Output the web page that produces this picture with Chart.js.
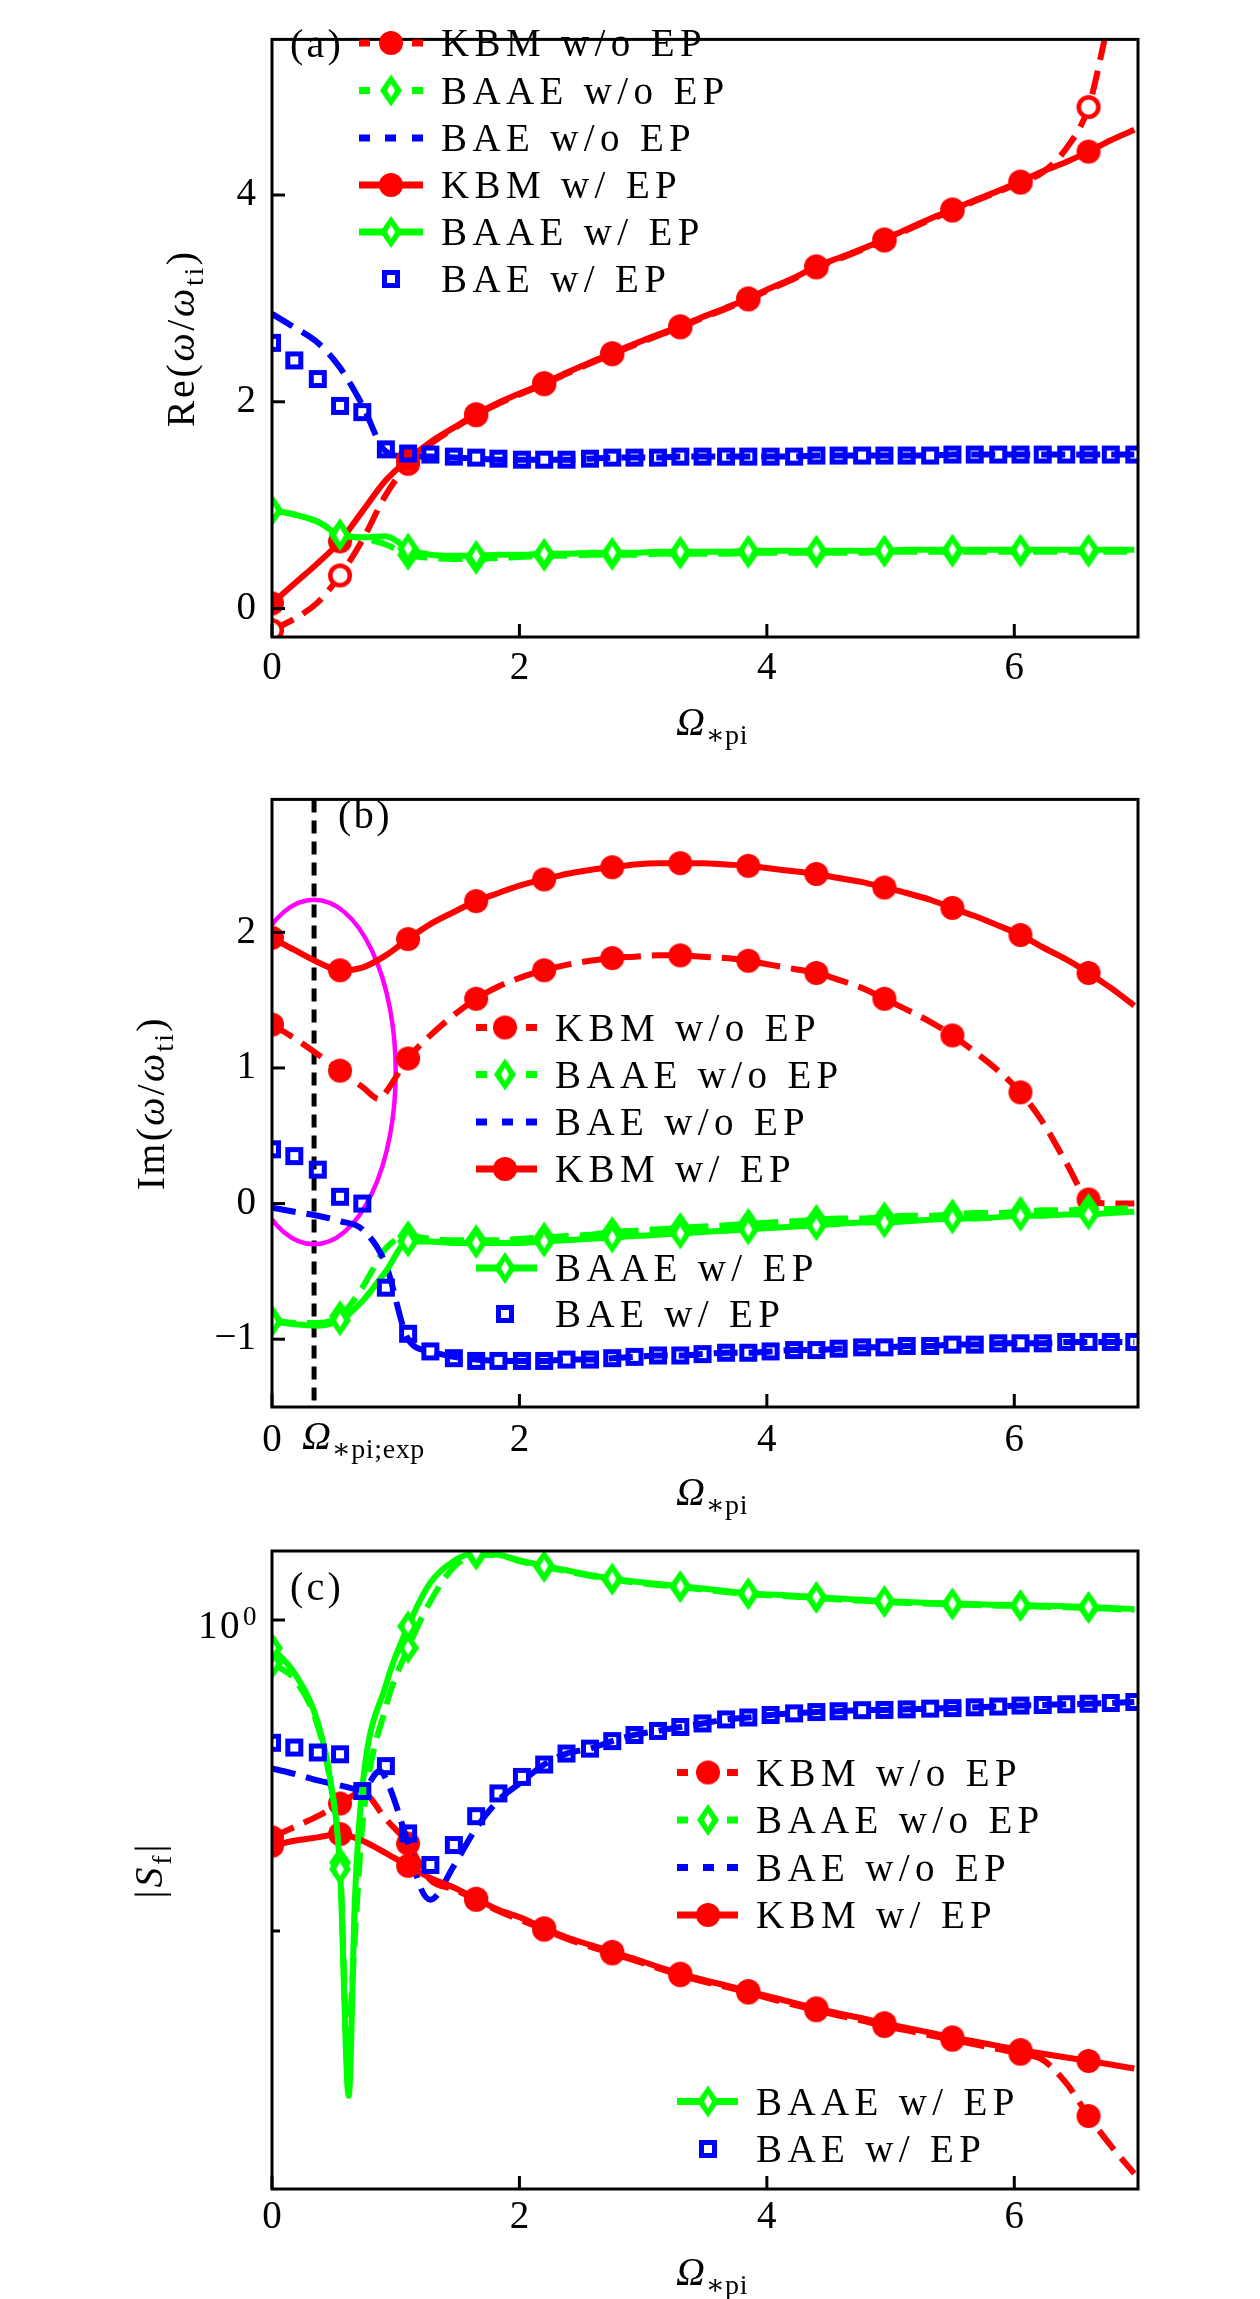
<!DOCTYPE html>
<html>
<head>
<meta charset="utf-8">
<script src="https://cdn.jsdelivr.net/npm/chart.js@4.4.1/dist/chart.umd.min.js"></script>
<style>
  html, body { margin: 0; padding: 0; background: #fff; }
  #wrap { position: relative; width: 1260px; height: 2299px; }
  canvas { position: absolute; left: 0; }
</style>
</head>
<body>
<div id="wrap">
  <canvas id="pa" width="1260" height="760" style="top:0px"></canvas>
  <canvas id="pb" width="1260" height="760" style="top:760px"></canvas>
  <canvas id="pc" width="1260" height="779" style="top:1520px"></canvas>
</div>
<script>
// ---------- data ----------
const omega = [0.00, 0.18, 0.37, 0.55, 0.73, 0.92, 1.10, 1.28, 1.47, 1.65, 1.83, 2.02, 2.20, 2.38, 2.57, 2.75, 2.93, 3.12, 3.30, 3.48,
               3.67, 3.85, 4.03, 4.22, 4.40, 4.58, 4.77, 4.95, 5.13, 5.32, 5.50, 5.68, 5.87, 6.05, 6.23, 6.42, 6.60, 6.78, 6.97];
const xTicks = [0, 2, 4, 6];

// (a) Re(omega/omega_ti)
const reKbmWo  = [-0.21, -0.10, 0.06, 0.32, 0.66, 1.10, 1.40, 1.59, 1.74, 1.87, 1.98, 2.08, 2.17, 2.27, 2.37, 2.46, 2.55, 2.64, 2.72, 2.81,
                  2.90, 2.99, 3.09, 3.19, 3.30, 3.38, 3.47, 3.56, 3.66, 3.76, 3.85, 3.94, 4.03, 4.12, 4.22, 4.45, 4.85, 5.75, 6.40];
const reBaaeWo = [0.95, 0.91, 0.84, 0.72, 0.68, 0.62, 0.52, 0.49, 0.48, 0.48, 0.49, 0.50, 0.51, 0.51, 0.52, 0.52, 0.52, 0.53, 0.53, 0.53,
                  0.53, 0.54, 0.54, 0.54, 0.54, 0.54, 0.54, 0.55, 0.55, 0.55, 0.55, 0.55, 0.55, 0.55, 0.55, 0.55, 0.55, 0.55, 0.55];
const reBaeWo  = [2.85, 2.72, 2.57, 2.33, 1.97, 1.52, 1.47, 1.47, 1.46, 1.45, 1.44, 1.44, 1.44, 1.44, 1.45, 1.46, 1.46, 1.46, 1.47, 1.47,
                  1.47, 1.47, 1.47, 1.47, 1.48, 1.48, 1.48, 1.48, 1.48, 1.48, 1.49, 1.49, 1.49, 1.49, 1.49, 1.49, 1.49, 1.49, 1.49];
const reKbmW   = [0.05, 0.24, 0.44, 0.65, 0.94, 1.24, 1.44, 1.61, 1.75, 1.88, 1.99, 2.09, 2.18, 2.28, 2.38, 2.47, 2.56, 2.65, 2.73, 2.82,
                  2.91, 3.00, 3.10, 3.20, 3.31, 3.39, 3.48, 3.57, 3.67, 3.77, 3.86, 3.95, 4.04, 4.13, 4.23, 4.32, 4.42, 4.53, 4.63];
const reBaaeW  = [0.95, 0.91, 0.84, 0.71, 0.69, 0.70, 0.58, 0.52, 0.51, 0.51, 0.52, 0.52, 0.53, 0.53, 0.54, 0.54, 0.54, 0.55, 0.55, 0.55,
                  0.55, 0.56, 0.56, 0.56, 0.56, 0.56, 0.56, 0.56, 0.57, 0.57, 0.57, 0.57, 0.57, 0.57, 0.57, 0.57, 0.57, 0.57, 0.57];
const reBaeW   = [2.57, 2.40, 2.22, 1.96, 1.90, 1.54, 1.50, 1.49, 1.47, 1.46, 1.45, 1.44, 1.44, 1.44, 1.45, 1.46, 1.46, 1.46, 1.47, 1.47,
                  1.47, 1.47, 1.47, 1.47, 1.48, 1.48, 1.48, 1.48, 1.48, 1.48, 1.49, 1.49, 1.49, 1.49, 1.49, 1.49, 1.49, 1.49, 1.49];
const reTicks  = [0, 2, 4];

// (b) Im(omega/omega_ti)
const imKbmWo  = [1.32, 1.22, 1.10, 0.98, 0.86, 0.82, 1.07, 1.24, 1.39, 1.51, 1.60, 1.67, 1.72, 1.76, 1.79, 1.81, 1.82, 1.83, 1.83, 1.82,
                  1.81, 1.79, 1.76, 1.73, 1.70, 1.65, 1.59, 1.51, 1.43, 1.34, 1.24, 1.12, 0.98, 0.82, 0.60, 0.30, 0.03, 0.00, 0.00];
const imKbmWoDipX = [0.87];
const imKbmWoDipY = [0.77];
const imBaaeWo = [-0.86, -0.88, -0.88, -0.83, -0.62, -0.33, -0.24, -0.26, -0.27, -0.27, -0.27, -0.26, -0.25, -0.24, -0.23, -0.21, -0.20, -0.19, -0.18, -0.17,
                  -0.16, -0.15, -0.14, -0.13, -0.12, -0.11, -0.11, -0.10, -0.09, -0.09, -0.08, -0.07, -0.07, -0.06, -0.05, -0.05, -0.04, -0.04, -0.03];
const imBaeWo  = [-0.03, -0.06, -0.09, -0.13, -0.19, -0.45, -1.00, -1.09, -1.13, -1.15, -1.16, -1.16, -1.16, -1.15, -1.15, -1.14, -1.13, -1.12, -1.12, -1.11,
                  -1.10, -1.10, -1.09, -1.08, -1.08, -1.07, -1.06, -1.06, -1.05, -1.05, -1.04, -1.04, -1.03, -1.03, -1.03, -1.02, -1.02, -1.02, -1.02];
const imKbmW   = [1.96, 1.87, 1.78, 1.72, 1.74, 1.83, 1.95, 2.06, 2.15, 2.23, 2.29, 2.35, 2.39, 2.43, 2.46, 2.48, 2.50, 2.51, 2.51, 2.51,
                  2.50, 2.49, 2.47, 2.45, 2.43, 2.40, 2.37, 2.33, 2.29, 2.24, 2.18, 2.12, 2.05, 1.98, 1.89, 1.80, 1.70, 1.59, 1.46];
const imBaaeW  = [-0.87, -0.89, -0.90, -0.86, -0.72, -0.50, -0.28, -0.28, -0.29, -0.29, -0.29, -0.29, -0.28, -0.27, -0.26, -0.25, -0.24, -0.23, -0.22, -0.21,
                  -0.20, -0.19, -0.18, -0.17, -0.16, -0.15, -0.14, -0.14, -0.13, -0.12, -0.11, -0.11, -0.10, -0.09, -0.09, -0.08, -0.08, -0.07, -0.06];
const imBaeW   = [0.40, 0.35, 0.25, 0.05, 0.00, -0.62, -0.96, -1.09, -1.14, -1.16, -1.16, -1.16, -1.16, -1.15, -1.15, -1.14, -1.13, -1.12, -1.12, -1.11,
                  -1.10, -1.10, -1.09, -1.08, -1.08, -1.07, -1.06, -1.06, -1.05, -1.05, -1.04, -1.04, -1.03, -1.03, -1.03, -1.02, -1.02, -1.02, -1.02];
const imTicks  = [-1, 0, 1, 2];
const omegaExp = 0.34;
const circleB  = { x: 0.34, y: 0.97, rx: 0.66, ry: 1.27 };

// (c) |S_f|
const sfKbmWo  = [0.200, 0.216, 0.234, 0.257, 0.279, 0.229, 0.191, 0.146, 0.136, 0.126, 0.116, 0.108, 0.101, 0.0944, 0.0891, 0.0847, 0.0804, 0.0759, 0.0721, 0.0689,
                  0.0661, 0.0634, 0.0605, 0.0579, 0.0556, 0.0535, 0.0515, 0.0495, 0.0479, 0.0462, 0.0447, 0.0432, 0.0417, 0.0403, 0.0385, 0.0324, 0.0254, 0.0204, 0.0166];
const sfBaaeWo = [0.724, 0.646, 0.457, 0.166, 0.219, 0.525, 0.813, 1.148, 1.479, 1.622, 1.614, 1.538, 1.483, 1.435, 1.387, 1.349, 1.321, 1.297, 1.276, 1.253,
                  1.230, 1.211, 1.200, 1.189, 1.178, 1.164, 1.153, 1.143, 1.135, 1.127, 1.122, 1.117, 1.112, 1.109, 1.104, 1.099, 1.094, 1.086, 1.076];
const sfBaaeWoDipX = [0.47, 0.61, 0.68];
const sfBaaeWoDipY = [0.302, 0.0447, 0.112];
const sfBaeWo  = [0.333, 0.320, 0.305, 0.294, 0.284, 0.309, 0.191, 0.126, 0.162, 0.214, 0.263, 0.302, 0.343, 0.372, 0.386, 0.408, 0.427, 0.440, 0.453, 0.465,
                  0.479, 0.486, 0.495, 0.501, 0.506, 0.509, 0.513, 0.514, 0.516, 0.519, 0.521, 0.524, 0.527, 0.531, 0.533, 0.536, 0.538, 0.541, 0.545];
const sfBaeWoDipX = [0.87, 1.20];
const sfBaeWoDipY = [0.327, 0.138];
const sfKbmW   = [0.188, 0.195, 0.200, 0.205, 0.195, 0.178, 0.162, 0.148, 0.138, 0.127, 0.117, 0.110, 0.102, 0.0955, 0.0902, 0.0857, 0.0813, 0.0767, 0.0729, 0.0697,
                  0.0668, 0.0641, 0.0614, 0.0587, 0.0564, 0.0543, 0.0524, 0.0505, 0.0488, 0.0471, 0.0455, 0.0441, 0.0427, 0.0414, 0.0403, 0.0392, 0.0382, 0.0372, 0.0361];
const sfBaaeW  = [0.813, 0.676, 0.468, 0.158, 0.288, 0.617, 0.955, 1.318, 1.549, 1.641, 1.622, 1.549, 1.493, 1.445, 1.396, 1.358, 1.330, 1.306, 1.285, 1.262,
                  1.239, 1.219, 1.208, 1.197, 1.186, 1.172, 1.161, 1.151, 1.143, 1.135, 1.130, 1.125, 1.119, 1.117, 1.112, 1.107, 1.102, 1.094, 1.084];
const sfBaaeWDipX = [0.47, 0.62, 0.67];
const sfBaaeWDipY = [0.309, 0.0295, 0.126];
const sfBaeW   = [0.403, 0.389, 0.375, 0.370, 0.282, 0.339, 0.206, 0.163, 0.189, 0.234, 0.277, 0.313, 0.343, 0.372, 0.386, 0.408, 0.427, 0.440, 0.453, 0.465,
                  0.479, 0.486, 0.495, 0.501, 0.506, 0.509, 0.513, 0.514, 0.516, 0.519, 0.521, 0.524, 0.527, 0.531, 0.533, 0.536, 0.538, 0.541, 0.545];
const sfMajorTicks = [1];
const sfMinorTicks = [0.1];

const labels = ['KBM w/o EP', 'BAAE w/o EP', 'BAE w/o EP', 'KBM w/ EP', 'BAAE w/ EP', 'BAE w/ EP'];

// ---------- styles ----------
const RED = '#ff0000', GREEN = '#00ff00', BLUE = '#0000ff', MAGENTA = '#ff00ff';
const SERIF = '"Liberation Serif", "DejaVu Serif", serif';
const LINE_W = 6;
const DASH = [24, 11];

function markerCanvas(w, h, draw) {
    const c = document.createElement('canvas');
    c.width = w; c.height = h;
    draw(c.getContext('2d'));
    return c;
}
const dotRed = markerCanvas(26, 26, g => {
    g.fillStyle = RED; g.beginPath(); g.arc(13, 13, 12, 0, Math.PI * 2); g.fill();
});
const ringRed = markerCanvas(26, 26, g => {
    g.fillStyle = '#fff'; g.strokeStyle = RED; g.lineWidth = 4.5;
    g.beginPath(); g.arc(13, 13, 9.8, 0, Math.PI * 2); g.fill(); g.stroke();
});
const diamondGreen = markerCanvas(24, 34, g => {
    g.fillStyle = GREEN;
    g.beginPath(); g.moveTo(12, 1); g.lineTo(23, 17); g.lineTo(12, 33); g.lineTo(1, 17); g.closePath(); g.fill();
    g.fillStyle = '#fff';
    g.beginPath(); g.moveTo(12, 10); g.lineTo(16, 17); g.lineTo(12, 24); g.lineTo(8, 17); g.closePath(); g.fill();
});
const squareBlue = markerCanvas(20, 20, g => {
    g.strokeStyle = BLUE; g.lineWidth = 5; g.strokeRect(3.5, 3.5, 13, 13);
});

// ---------- helpers ----------
function linePts(ys, ex, ey) {
    const p = omega.map((x, i) => ({ x: x, y: ys[i] }));
    (ex || []).forEach((x, i) => p.push({ x: x, y: ey[i] }));
    return p.sort((a, b) => a.x - b.x);
}
function markerPts(ys, step) {
    return omega.map((x, i) => ({ x: x, y: ys[i] })).filter((p, i) => i % step === 0);
}
function buildDatasets(list) {
    const out = [];
    list.forEach((s, i) => {
        const order = 100 - i * 2;
        if (!s.noLine) {
            out.push({
                data: linePts(s.ys, s.ex, s.ey),
                borderColor: s.color, borderWidth: LINE_W,
                borderDash: s.dash ? DASH : [],
                pointRadius: 0, pointHoverRadius: 0, fill: false,
                cubicInterpolationMode: 'monotone', order: order
            });
        }
        if (s.marker) {
            out.push({
                data: markerPts(s.ys, s.step),
                showLine: false, pointStyle: s.marker,
                pointRadius: 10, pointHoverRadius: 10,
                clip: 0, order: order - 1
            });
        }
    });
    return out;
}

// rich text: runs of [text, flags]; i = italic, b = subscript, p = superscript
// the letter spacing is stretched so the run fills the width seen in the figure
function drawRuns(ctx, runs, x, y, size, align, target) {
    const items = runs.map(([t, f = '']) => {
        const small = f.includes('b') || f.includes('p');
        const s = small ? size * 0.7 : size;
        const font = (f.includes('i') ? 'italic ' : '') + s + 'px ' + SERIF;
        ctx.font = font;
        ctx.letterSpacing = '0px';
        const w = ctx.measureText(t).width;
        const dy = f.includes('b') ? size * 0.22 : f.includes('p') ? -size * 0.38 : 0;
        return { t, font, w, dy };
    });
    const raw = items.reduce((a, it) => a + it.w, 0);
    const n = items.reduce((a, it) => a + it.t.length, 0);
    const sp = target ? Math.max(-2, Math.min(6, (target - raw) / n)) : 0;
    const total = raw + sp * n;
    let cx = align === 'center' ? x - total / 2 : align === 'right' ? x - total : x;
    ctx.textAlign = 'left';
    ctx.textBaseline = 'alphabetic';
    ctx.letterSpacing = sp + 'px';
    items.forEach(it => {
        ctx.font = it.font;
        ctx.fillText(it.t, cx, y + it.dy);
        cx += it.w + sp * it.t.length;
    });
    ctx.letterSpacing = '0px';
}

let legendSpacing = null;
function drawLegend(ctx, spec) {
    ctx.font = '39px ' + SERIF;
    ctx.letterSpacing = '0px';
    if (legendSpacing === null) {
        const w = ctx.measureText(labels[0]).width;
        legendSpacing = Math.max(-1, Math.min(6, (266 - w) / labels[0].length));
    }
    spec.rows.forEach(r => {
        const y = r.y;
        ctx.save();
        ctx.strokeStyle = r.color; ctx.lineWidth = 7; ctx.lineCap = 'butt';
        let segs = [];
        if (r.line === 'solid') segs = [[spec.x0, spec.x1]];
        if (r.line === 'dashM') segs = [[spec.x0, spec.x0 + 11], [spec.x1 - 11, spec.x1]];
        if (r.line === 'dash') segs = [[spec.x0, spec.x0 + 11], [spec.x0 + 26, spec.x0 + 37], [spec.x1 - 11, spec.x1]];
        segs.forEach(([a, b]) => { ctx.beginPath(); ctx.moveTo(a, y); ctx.lineTo(b, y); ctx.stroke(); });
        if (r.marker) ctx.drawImage(r.marker, spec.mx - r.marker.width / 2, y - r.marker.height / 2);
        ctx.fillStyle = '#000';
        ctx.font = '39px ' + SERIF;
        ctx.letterSpacing = legendSpacing + 'px';
        ctx.textAlign = 'left'; ctx.textBaseline = 'alphabetic';
        ctx.fillText(r.label, spec.tx, y + 13);
        ctx.letterSpacing = '0px';
        ctx.restore();
    });
}

function legendRows(ys) {
    const kinds = [
        { line: 'dashM', color: RED, marker: dotRed },
        { line: 'dashM', color: GREEN, marker: diamondGreen },
        { line: 'dash', color: BLUE, marker: null },
        { line: 'solid', color: RED, marker: dotRed },
        { line: 'solid', color: GREEN, marker: diamondGreen },
        { line: 'none', color: BLUE, marker: squareBlue }
    ];
    return kinds.map((k, i) => Object.assign({ label: labels[i], y: ys[i] }, k));
}

const panelPlugin = {
    id: 'panel',
    beforeDatasetsDraw(chart, args, o) {
        if (o.extraBelow) o.extraBelow(chart);
    },
    afterDraw(chart, args, o) {
        const { ctx, chartArea: ca, scales } = chart;
        ctx.save();
        ctx.fillStyle = '#000';
        ctx.strokeStyle = '#000';
        ctx.lineWidth = 3;
        ctx.setLineDash([]);
        // inward ticks
        scales.x.ticks.forEach(t => {
            const px = scales.x.getPixelForValue(t.value);
            ctx.beginPath(); ctx.moveTo(px, ca.bottom); ctx.lineTo(px, ca.bottom - 13); ctx.stroke();
        });
        scales.y.ticks.forEach(t => {
            const py = scales.y.getPixelForValue(t.value);
            ctx.beginPath(); ctx.moveTo(ca.left, py); ctx.lineTo(ca.left + 13, py); ctx.stroke();
        });
        (o.minorY || []).forEach(v => {
            const py = scales.y.getPixelForValue(v);
            ctx.beginPath(); ctx.moveTo(ca.left, py); ctx.lineTo(ca.left + 8, py); ctx.stroke();
        });
        // frame
        ctx.strokeRect(ca.left, ca.top, ca.right - ca.left, ca.bottom - ca.top);
        // axis titles
        drawRuns(ctx, [['Ω', 'i'], ['∗pi', 'b']], 712, o.xTitleY, 40, 'center', 72);
        ctx.save();
        ctx.translate(o.yTitle.x, (ca.top + ca.bottom) / 2);
        ctx.rotate(-Math.PI / 2);
        drawRuns(ctx, o.yTitle.runs, 0, 13, 40, 'center', o.yTitle.w);
        ctx.restore();
        // panel letter
        drawRuns(ctx, [[o.letter.t]], o.letter.x, o.letter.y, 40, 'left', 54);
        if (o.extraAbove) o.extraAbove(chart);
        drawLegend(ctx, o.legend);
        ctx.restore();
    }
};

function tickFmt(v) { return v < 0 ? '−' + Math.abs(v) : String(v); }

function makePanel(id, cfg) {
    return new Chart(document.getElementById(id), {
        type: 'line',
        data: { datasets: buildDatasets(cfg.series) },
        options: {
            responsive: false, animation: false, devicePixelRatio: 1,
            layout: { padding: { top: cfg.top, right: 122, bottom: 0, left: 0 } },
            plugins: { legend: { display: false }, tooltip: { enabled: false }, panel: cfg.deco },
            scales: {
                x: {
                    type: 'linear', min: 0, max: 7,
                    afterFit: s => { s.height = cfg.xh; },
                    afterBuildTicks: s => { s.ticks = xTicks.map(v => ({ value: v })); },
                    grid: { display: false, drawTicks: false },
                    border: { display: false },
                    ticks: { padding: cfg.xpad, color: '#000', font: { family: SERIF, size: 39 }, maxRotation: 0, autoSkip: false, callback: tickFmt }
                },
                y: Object.assign({
                    afterFit: s => { s.width = 272; },
                    afterBuildTicks: s => { s.ticks = cfg.yTicks.map(v => ({ value: v })); },
                    grid: { display: false, drawTicks: false },
                    border: { display: false },
                    ticks: { display: cfg.yLabels !== false, padding: 16, color: '#000', font: { family: SERIF, size: 39 }, callback: tickFmt }
                }, cfg.y)
            }
        },
        plugins: [panelPlugin]
    });
}

// ---------- panel (a) ----------
makePanel('pa', {
    top: 7, xh: 123, xpad: 8,
    y: { type: 'linear', min: -0.275, max: 5.505 },
    yTicks: reTicks,
    series: [
        { ys: reKbmWo, color: RED, dash: true, marker: ringRed, step: 3 },
        { ys: reBaaeWo, color: GREEN, dash: true, marker: diamondGreen, step: 3 },
        { ys: reBaeWo, color: BLUE, dash: true },
        { ys: reKbmW, color: RED, marker: dotRed, step: 3 },
        { ys: reBaaeW, color: GREEN, marker: diamondGreen, step: 3 },
        { ys: reBaeW, color: BLUE, noLine: true, marker: squareBlue, step: 1 }
    ],
    deco: {
        xTitleY: 735,
        yTitle: { x: 181, w: 178, runs: [['Re('], ['ω', 'i'], ['/'], ['ω', 'i'], ['ti', 'b'], [')']] },
        letter: { t: '(a)', x: 290, y: 57 },
        legend: { x0: 359, x1: 423, mx: 391, tx: 441, rows: legendRows([43, 90.5, 138, 185, 232, 279]) }
    }
});

// ---------- panel (b) ----------
makePanel('pb', {
    top: 20, xh: 113, xpad: 10,
    y: { type: 'linear', min: -1.5, max: 2.98 },
    yTicks: imTicks,
    series: [
        { ys: imKbmWo, ex: imKbmWoDipX, ey: imKbmWoDipY, color: RED, dash: true, marker: dotRed, step: 3 },
        { ys: imBaaeWo, color: GREEN, dash: true, marker: diamondGreen, step: 3 },
        { ys: imBaeWo, color: BLUE, dash: true },
        { ys: imKbmW, color: RED, marker: dotRed, step: 3 },
        { ys: imBaaeW, color: GREEN, marker: diamondGreen, step: 3 },
        { ys: imBaeW, color: BLUE, noLine: true, marker: squareBlue, step: 1 }
    ],
    deco: {
        xTitleY: 745,
        yTitle: { x: 151, w: 174, runs: [['Im('], ['ω', 'i'], ['/'], ['ω', 'i'], ['ti', 'b'], [')']] },
        letter: { t: '(b)', x: 338, y: 68 },
        legend: { x0: 476, x1: 537, mx: 505, tx: 555, rows: legendRows([267.5, 314.5, 362, 409, 508, 554]) },
        extraBelow(chart) {
            const { ctx, chartArea: ca, scales } = chart;
            ctx.save();
            ctx.beginPath(); ctx.rect(ca.left, ca.top, ca.right - ca.left, ca.bottom - ca.top); ctx.clip();
            // experimental Omega marker line
            const px = scales.x.getPixelForValue(omegaExp);
            ctx.strokeStyle = '#000'; ctx.lineWidth = 5; ctx.setLineDash([13, 8]);
            ctx.beginPath(); ctx.moveTo(px, ca.top); ctx.lineTo(px, ca.bottom); ctx.stroke();
            // highlight ellipse
            const cx = scales.x.getPixelForValue(circleB.x), cy = scales.y.getPixelForValue(circleB.y);
            const rx = scales.x.getPixelForValue(circleB.x + circleB.rx) - cx;
            const ry = cy - scales.y.getPixelForValue(circleB.y + circleB.ry);
            ctx.setLineDash([]); ctx.strokeStyle = MAGENTA; ctx.lineWidth = 4.5;
            ctx.beginPath(); ctx.ellipse(cx, cy, rx, ry, 0, 0, Math.PI * 2); ctx.stroke();
            ctx.restore();
        },
        extraAbove(chart) {
            const { ctx } = chart;
            ctx.fillStyle = '#000';
            drawRuns(ctx, [['Ω', 'i'], ['∗pi;exp', 'b']], 302, 689, 40, 'left', 123);
        }
    }
});

// ---------- panel (c) ----------
makePanel('pc', {
    top: 31, xh: 110, xpad: 5,
    y: { type: 'logarithmic', min: 0.0148, max: 1.667 },
    yTicks: sfMajorTicks, yLabels: false,
    series: [
        { ys: sfKbmWo, color: RED, dash: true, marker: dotRed, step: 3 },
        { ys: sfBaaeWo, ex: sfBaaeWoDipX, ey: sfBaaeWoDipY, color: GREEN, dash: true, marker: diamondGreen, step: 3 },
        { ys: sfBaeWo, ex: sfBaeWoDipX, ey: sfBaeWoDipY, color: BLUE, dash: true },
        { ys: sfKbmW, color: RED, marker: dotRed, step: 3 },
        { ys: sfBaaeW, ex: sfBaaeWDipX, ey: sfBaaeWDipY, color: GREEN, marker: diamondGreen, step: 3 },
        { ys: sfBaeW, color: BLUE, noLine: true, marker: squareBlue, step: 1 }
    ],
    deco: {
        xTitleY: 765,
        minorY: sfMinorTicks,
        yTitle: { x: 149, w: 57, runs: [['|'], ['S', 'i'], ['f', 'b'], ['|']] },
        letter: { t: '(c)', x: 290, y: 80 },
        legend: { x0: 677, x1: 738, mx: 708, tx: 756, rows: legendRows([252.5, 300, 347.5, 395, 581.5, 629]) },
        extraAbove(chart) {
            const { ctx, scales } = chart;
            ctx.fillStyle = '#000';
            const py = scales.y.getPixelForValue(1);
            drawRuns(ctx, [['10']], 242, py + 18, 39, 'right', 44);
            drawRuns(ctx, [['0']], 243, py + 5, 27, 'left', 0);
        }
    }
});
</script>
</body>
</html>
